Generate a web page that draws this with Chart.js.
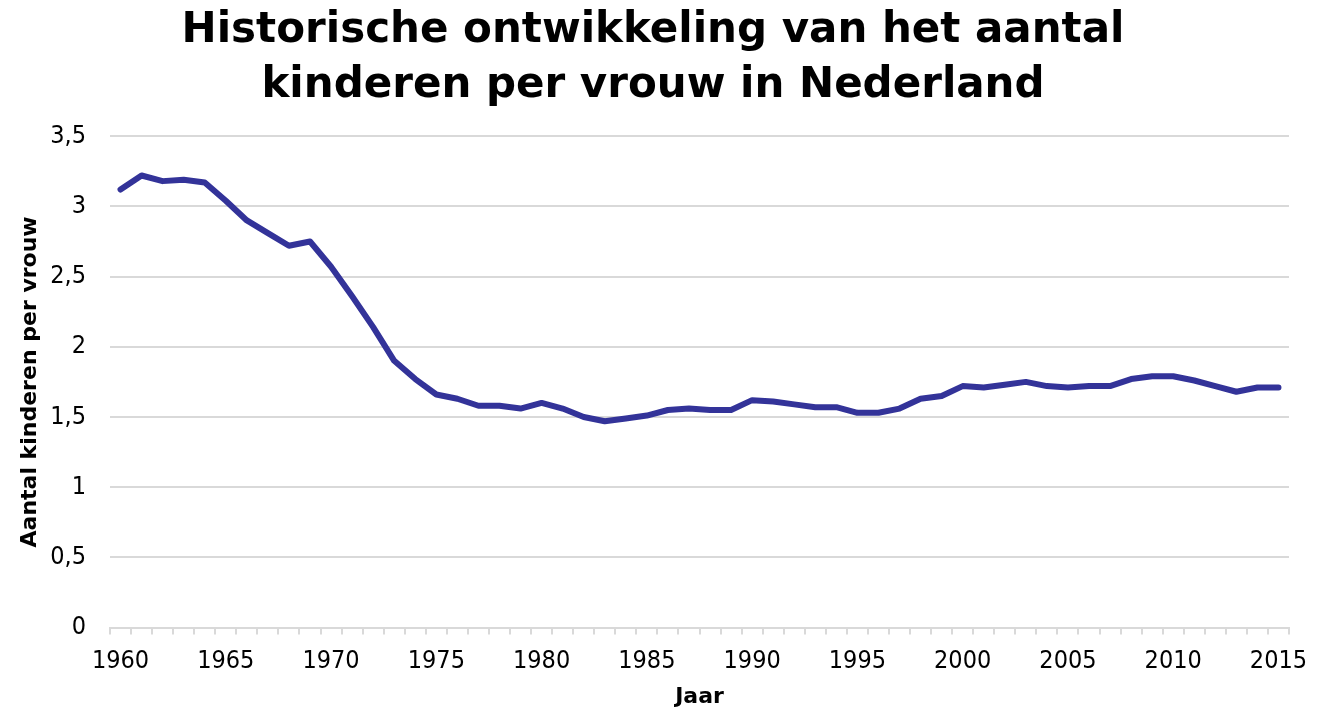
<!DOCTYPE html>
<html>
<head>
<meta charset="utf-8">
<script src="https://cdn.jsdelivr.net/npm/chart.js@4/dist/chart.umd.min.js"></script>
<style>
  html, body { margin: 0; padding: 0; background: #fff; }
</style>
</head>
<body>
<canvas id="tfrChart" width="1332" height="710"></canvas>
<script>
const years = [];
for (let y = 1960; y <= 2015; y++) years.push(String(y));

const kinderenPerVrouw = [
  3.12, 3.22, 3.18, 3.19, 3.17, 3.04, 2.90, 2.81, 2.72, 2.75,
  2.57, 2.36, 2.14, 1.90, 1.77, 1.66, 1.63, 1.58, 1.58, 1.56,
  1.60, 1.56, 1.50, 1.47, 1.49, 1.51, 1.55, 1.56, 1.55, 1.55,
  1.62, 1.61, 1.59, 1.57, 1.57, 1.53, 1.53, 1.56, 1.63, 1.65,
  1.72, 1.71, 1.73, 1.75, 1.72, 1.71, 1.72, 1.72, 1.77, 1.79,
  1.79, 1.76, 1.72, 1.68, 1.71, 1.71
];

const titleLines = ['Historische ontwikkeling van het aantal', 'kinderen per vrouw in Nederland'];

const tickFont = { family: '"DejaVu Sans Condensed", "DejaVu Sans", sans-serif', size: 25 };
const xTickFont = Object.assign({}, tickFont, { lineHeight: 1 });
const boldFont = { family: '"DejaVu Sans", Verdana, sans-serif', size: 22, weight: 'bold' };

const ctx = document.getElementById('tfrChart');
new Chart(ctx, {
  type: 'line',
  data: {
    labels: years,
    datasets: [{
      label: 'Aantal kinderen per vrouw',
      data: kinderenPerVrouw,
      borderColor: '#333399',
      borderWidth: 6,
      borderJoinStyle: 'round',
      borderCapStyle: 'round',
      pointRadius: 0,
      tension: 0,
      fill: false
    }]
  },
  options: {
    responsive: false,
    animation: false,
    layout: { padding: { left: 17, right: 43, top: 4, bottom: 0 } },
    plugins: {
      legend: { display: false },
      tooltip: { enabled: false },
      title: {
        display: true,
        text: titleLines,
        color: '#000',
        font: { family: '"DejaVu Sans", Verdana, sans-serif', size: 42, weight: 'bold', lineHeight: 1.3 },
        padding: { top: 0, bottom: 23 }
      }
    },
    scales: {
      x: {
        type: 'category',
        offset: true,
        grid: {
          offset: true,
          drawOnChartArea: false,
          drawTicks: true,
          tickLength: 7,
          color: '#d9d9d9',
          lineWidth: 2
        },
        border: { display: true, color: '#d9d9d9', width: 2 },
        ticks: {
          autoSkip: false,
          maxRotation: 0,
          padding: 14,
          color: '#000',
          font: xTickFont,
          callback: function (value) {
            const lbl = this.getLabelForValue(value);
            return Number(lbl) % 5 === 0 ? lbl : '';
          }
        },
        title: {
          display: true,
          text: 'Jaar',
          color: '#000',
          font: boldFont,
          padding: { top: -4, bottom: 0 }
        }
      },
      y: {
        min: 0,
        max: 3.5,
        grid: { color: '#d9d9d9', lineWidth: 2, drawTicks: false },
        border: { display: false },
        afterFit: scale => { scale.width = 93; },
        ticks: {
          stepSize: 0.5,
          padding: 24,
          color: '#000',
          font: tickFont,
          callback: v => String(v).replace('.', ',')
        },
        title: {
          display: true,
          text: 'Aantal kinderen per vrouw',
          color: '#000',
          font: boldFont,
          padding: { top: 0, bottom: 0 }
        }
      }
    }
  }
});
</script>
</body>
</html>
